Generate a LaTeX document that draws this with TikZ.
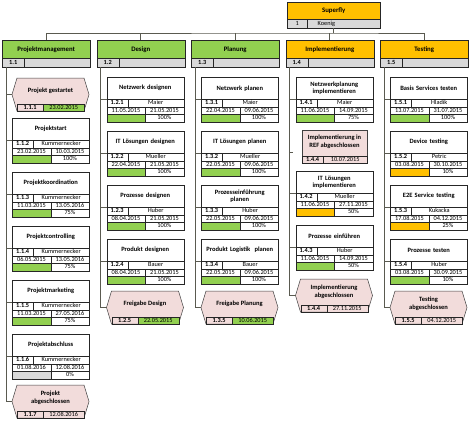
\documentclass[tikz,border=0pt]{standalone}
\usepackage{fontspec}
\setmainfont{Carlito}
\usepackage{xcolor}
\usepackage{tikz}
\usetikzlibrary{calc}

\definecolor{phgreen}{HTML}{92D050}
\definecolor{phorange}{HTML}{FFC000}
\definecolor{cellgray}{HTML}{D9D9D9}
\definecolor{mspink}{HTML}{F2DCDB}
\definecolor{boxline}{HTML}{262626}
\definecolor{msline}{HTML}{404040}
\definecolor{linkgray}{HTML}{5A5A50}

\newcommand\rowfont{\fontsize{6.3}{6.3}\selectfont}
\newcommand\titlefont{\fontsize{6.5}{7.6}\selectfont\bfseries}
\newcommand\headfont{\fontsize{6.8}{8}\selectfont\bfseries}

\tikzset{
  cell/.style={draw=boxline, line width=0.4pt, inner sep=0pt, anchor=north west,
    minimum height=7.5pt, text height=5.1pt, text depth=1.1pt, font=\rowfont},
  idcell/.style={cell, font=\rowfont\bfseries},
  headbox/.style={draw=boxline, line width=0.5pt, inner sep=0pt, anchor=north west, font=\headfont},
  titlebox/.style={draw=boxline, line width=0.5pt, fill=white, anchor=north west, inner xsep=2pt,
    inner ysep=0pt, text width=73pt, minimum height=22pt, align=center, font=\titlefont},
  mstitle/.style={inner sep=0pt, align=center, font=\titlefont},
  msshape/.style={draw=msline, line width=0.5pt, fill=mspink},
  wbsline/.style={draw=linkgray, line width=0.7pt}
}

\newcommand\phasehead[5]{%
  \node[headbox, fill=#5, minimum width=88pt, minimum height=18pt] (#1) at (#2,40) {#3};
  \node[idcell, fill=cellgray, minimum width=22pt, minimum height=9pt] (#1-id) at (#2,58) {#4};
  \node[cell, fill=cellgray, minimum width=66pt, minimum height=9pt] (#1-x) at (#2+22,58) {};
  \coordinate (#1-tr) at (#2+4,67);}

\newcommand\taskbox[9]{%
  \begin{scope}[shift={#2}]
  \node[titlebox] (#1) at (0,0) {#3};
  \node[idcell, minimum width=21pt] (#1-id) at (0,22) {#4};
  \node[cell, minimum width=56pt] (#1-who) at (21,22) {#5};
  \node[cell, minimum width=38.5pt] (#1-s) at (0,29.5) {#6};
  \node[cell, minimum width=38.5pt] (#1-e) at (38.5,29.5) {#7};
  \node[cell, minimum width=38.5pt, fill=#8] (#1-bar) at (0,37) {};
  \node[cell, minimum width=38.5pt] (#1-p) at (38.5,37) {#9};
  \coordinate (#1-in) at (0,22);
  \end{scope}}

\newcommand\milestone[6]{%
  \begin{scope}[shift={#2}]
  \path[msshape] (0,16.5) -- (5,0) -- (72,0) -- (77,16.5) -- (72,33) -- (5,33) -- cycle;
  \node[mstitle] (#1) at (38.5,12.5) {#3};
  \node[idcell, minimum width=26pt] (#1-id) at (5,25.5) {#4};
  \node[cell, minimum width=41pt, fill=#6] (#1-d) at (31,25.5) {#5};
  \coordinate (#1-in) at (0,16.5);
  \end{scope}}

\begin{document}
\begin{tikzpicture}[x=1pt,y=-1pt]
\path[fill=white] (0,0) rectangle (470,421);
\useasboundingbox (0,0) rectangle (470,421);

\node[headbox, fill=phorange, minimum width=93pt, minimum height=17pt] (root) at (287,2) {Superfly};
\node[cell, fill=cellgray, minimum width=20pt, minimum height=9pt] (root-id) at (287,19) {1};
\node[cell, fill=cellgray, minimum width=73pt, minimum height=9pt, text width=52pt, align=left] (root-who) at (307,19) {Koenig};
\coordinate (root-out) at (333.5,28);
\coordinate (bus) at (333.5,33);

\phasehead{p11}{2}{Projektmanagement}{1.1}{phgreen}
\phasehead{p12}{96.5}{Design}{1.2}{phgreen}
\phasehead{p13}{191}{Planung}{1.3}{phgreen}
\phasehead{p14}{285.5}{Implementierung}{1.4}{phorange}
\phasehead{p15}{380}{Testing}{1.5}{phorange}

\milestone{m111}{(12,78)}{Projekt gestartet}{1.1.1}{23.02.2015}{phgreen}
\taskbox{t112}{(12,118)}{Projektstart}{1.1.2}{Kummernecker}{23.02.2015}{10.03.2015}{phgreen}{100\%}
\taskbox{t113}{(12,172)}{Projektkoordination}{1.1.3}{Kummernecker}{11.03.2015}{13.05.2016}{phgreen}{75\%}
\taskbox{t114}{(12,226)}{Projektcontrolling}{1.1.4}{Kummernecker}{06.05.2015}{13.05.2016}{phgreen}{75\%}
\taskbox{t115}{(12,280)}{Projektmarketing}{1.1.5}{Kummernecker}{11.03.2015}{27.05.2016}{phgreen}{75\%}
\taskbox{t116}{(12,334)}{Projektabschluss}{1.1.6}{Kummernecker}{01.08.2016}{12.08.2016}{cellgray}{0\%}
\milestone{m117}{(12,385)}{Projekt\\abgeschlossen}{1.1.7}{12.08.2016}{mspink}

\taskbox{t121}{(106.5,77)}{Netzwerk designen}{1.2.1}{Maier}{11.05.2015}{21.05.2015}{phgreen}{100\%}
\taskbox{t122}{(106.5,131)}{IT Lösungen designen}{1.2.2}{Mueller}{22.04.2015}{21.05.2015}{phgreen}{100\%}
\taskbox{t123}{(106.5,185)}{Prozesse designen}{1.2.3}{Huber}{08.04.2015}{21.05.2015}{phgreen}{100\%}
\taskbox{t124}{(106.5,239)}{Produkt designen}{1.2.4}{Bauer}{08.04.2015}{21.05.2015}{phgreen}{100\%}
\milestone{m125}{(106.5,291)}{Freigabe Design}{1.2.5}{22.05.2015}{phgreen}

\taskbox{t131}{(201,77)}{Netzwerk planen}{1.3.1}{Maier}{22.04.2015}{09.06.2015}{phgreen}{100\%}
\taskbox{t132}{(201,131)}{IT Lösungen planen}{1.3.2}{Mueller}{22.05.2015}{09.06.2015}{phgreen}{100\%}
\taskbox{t133}{(201,185)}{Prozesseinführung\\planen}{1.3.3}{Huber}{22.05.2015}{09.06.2015}{phgreen}{100\%}
\taskbox{t134}{(201,239)}{Produkt Logistik\ \ planen}{1.3.4}{Bauer}{22.05.2015}{09.06.2015}{phgreen}{100\%}
\milestone{m135}{(201,291)}{Freigabe Planung}{1.3.5}{10.06.2015}{phgreen}

\taskbox{t141}{(295.5,77)}{Netzwerkplanung\\implementieren}{1.4.1}{Maier}{11.06.2015}{14.09.2015}{phgreen}{75\%}
\node[draw=msline, line width=0.5pt, fill=mspink, anchor=north west, minimum width=65pt, minimum height=33pt, inner sep=0pt] (m144a-box) at (302,130) {};
\node[mstitle] (m144a) at (334.5,142) {Implementierung in\\REF abgeschlossen};
\node[idcell, minimum width=21pt, minimum height=7pt] (m144a-id) at (302,156) {1.4.4};
\node[cell, minimum width=44pt, minimum height=7pt, fill=mspink] (m144a-d) at (323,156) {10.07.2015};
\coordinate (m144a-in) at (293,152);
\taskbox{t142}{(295.5,171)}{IT Lösungen\\implementieren}{1.4.2}{Mueller}{11.06.2015}{27.11.2015}{phorange}{50\%}
\taskbox{t143}{(295.5,225)}{Prozesse einführen}{1.4.3}{Huber}{11.06.2015}{14.09.2015}{phgreen}{50\%}
\milestone{m144}{(295.5,279)}{Implementierung\\abgeschlossen}{1.4.4}{27.11.2015}{mspink}

\taskbox{t151}{(390,77)}{Basis Services testen}{1.5.1}{Hladik}{13.07.2015}{31.07.2015}{phgreen}{100\%}
\taskbox{t152}{(390,131)}{Device testing}{1.5.2}{Petric}{03.08.2015}{30.10.2015}{phorange}{10\%}
\taskbox{t153}{(390,185)}{E2E Service testing}{1.5.3}{Kukacka}{17.08.2015}{04.12.2015}{phorange}{25\%}
\taskbox{t154}{(390,239)}{Prozesse testen}{1.5.4}{Huber}{03.08.2015}{30.09.2015}{phgreen}{10\%}
\milestone{m155}{(390,291)}{Testing\\abgeschlossen}{1.5.5}{04.12.2015}{mspink}

\draw[wbsline] (root-out) -- (bus);
\draw[wbsline] (p11.north) |- (bus) -| (p15.north);
\foreach \p in {p12,p13,p14} \draw[wbsline] (\p.north |- bus) -- (\p.north);

\draw[wbsline] (p11-tr) |- (m117-in);
\foreach \t in {m111,t112,t113,t114,t115,t116} \draw[wbsline] (p11-tr |- \t-in) -- (\t-in);
\draw[wbsline] (p12-tr) |- (m125-in);
\foreach \t in {t121,t122,t123,t124} \draw[wbsline] (p12-tr |- \t-in) -- (\t-in);
\draw[wbsline] (p13-tr) |- (m135-in);
\foreach \t in {t131,t132,t133,t134} \draw[wbsline] (p13-tr |- \t-in) -- (\t-in);
\draw[wbsline] (p14-tr) |- (m144-in);
\foreach \t in {t141,m144a,t142,t143} \draw[wbsline] (p14-tr |- \t-in) -- (\t-in);
\draw[wbsline] (p15-tr) |- (m155-in);
\foreach \t in {t151,t152,t153,t154} \draw[wbsline] (p15-tr |- \t-in) -- (\t-in);
\end{tikzpicture}
\end{document}
